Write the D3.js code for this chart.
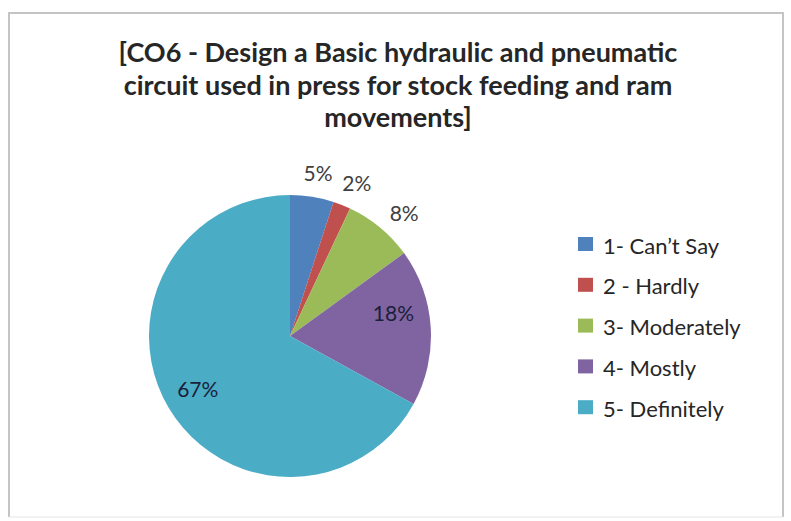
<!DOCTYPE html>
<html><head><meta charset="utf-8">
<script src="https://cdn.jsdelivr.net/npm/d3@7"></script>
<style>
html,body{margin:0;padding:0;background:#fff;}
svg{display:block;}
</style></head>
<body>
<svg id="chart" width="791" height="521"></svg>
<script>
const categories = ["1- Can\u2019t Say", "2 - Hardly", "3- Moderately", "4- Mostly", "5- Definitely"];
const values = [5, 2, 8, 18, 67];
const labels = ["5%", "2%", "8%", "18%", "67%"];
const titleLines = ["[CO6 - Design a Basic hydraulic and pneumatic", "circuit used in press for stock feeding and ram", "movements]"];

const colors = ["#4F81BD", "#C0504D", "#9BBB59", "#8064A2", "#4BACC6"];
// label layout (radius, angle shift in degrees) — styling only
const labelRadius = [166, 167, 168, 106, 106];
const labelAngleShift = [0.7, 2, 3.2, -9, 1.1];

const svg = d3.select("#chart");
const W = 791, H = 521;
svg.append("rect").attr("width", W).attr("height", H).attr("fill", "#fff");
svg.append("rect").attr("x", 9).attr("y", 13).attr("width", 774).attr("height", 504)
  .attr("fill", "#fff").attr("stroke", "none");
svg.append("path").attr("d", "M9,517 V13 H783 V517")
  .attr("fill", "none").attr("stroke", "#c4c4c4").attr("stroke-width", 2);
svg.append("line").attr("x1", 9).attr("x2", 783).attr("y1", 517).attr("y2", 517)
  .attr("stroke", "#eeeeee").attr("stroke-width", 1.5);

const font = "Lato, 'Open Sans', sans-serif";
svg.append("g").selectAll("text").data(titleLines).join("text")
  .attr("x", 398).attr("y", (d, i) => 62 + i * 32.5)
  .attr("text-anchor", "middle")
  .attr("font-family", font).attr("font-weight", "bold").attr("font-size", 27)
  .attr("fill", "#262626").text(d => d);

const cx = 290, cy = 336, R = 141;
const pie = d3.pie().sort(null).value(d => d)(values);
const arc = d3.arc().innerRadius(0).outerRadius(R);
const g = svg.append("g").attr("transform", `translate(${cx},${cy})`);
g.selectAll("path").data(pie).join("path")
  .attr("d", arc).attr("fill", (d, i) => colors[i]);

const ang = (d, i) => (d.startAngle + d.endAngle) / 2 + labelAngleShift[i] * Math.PI / 180;
g.selectAll("text").data(pie).join("text")
  .attr("x", (d, i) => labelRadius[i] * Math.sin(ang(d, i)))
  .attr("y", (d, i) => -labelRadius[i] * Math.cos(ang(d, i)))
  .attr("text-anchor", "middle").attr("dominant-baseline", "central")
  .attr("font-family", font).attr("font-size", 21).attr("fill", (d, i) => i >= 3 ? "#1a1f3a" : "#404040")
  .text((d, i) => labels[i]);

const leg = svg.append("g");
const rows = leg.selectAll("g").data(categories).join("g")
  .attr("transform", (d, i) => `translate(578, ${244 + i * 40.8})`);
rows.append("rect").attr("x", 0).attr("y", -7).attr("width", 15).attr("height", 14)
  .attr("fill", (d, i) => colors[i]);
rows.append("text").attr("x", 25).attr("y", 1).attr("dominant-baseline", "central")
  .attr("font-family", font).attr("font-size", 22).attr("fill", "#262626").text(d => d);
</script>
</body></html>
